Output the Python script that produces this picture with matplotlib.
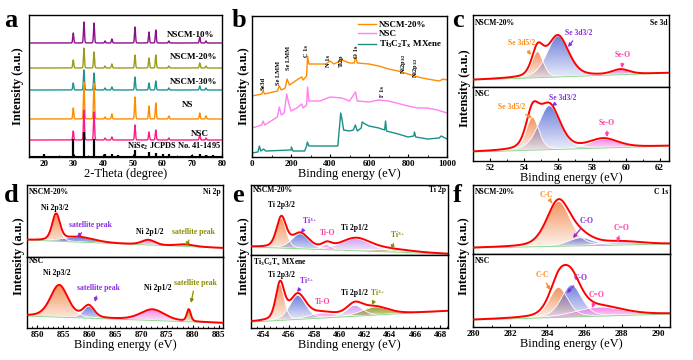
import numpy as np
import matplotlib
matplotlib.use("Agg")
import matplotlib.pyplot as plt
from matplotlib.colors import to_rgb
from matplotlib.ticker import MultipleLocator

plt.rcParams['font.family'] = ['Liberation Serif', 'DejaVu Serif']
plt.rcParams['font.weight'] = 'bold'
plt.rcParams['mathtext.fontset'] = 'custom'
plt.rcParams['mathtext.rm'] = 'Liberation Serif:bold'
plt.rcParams['mathtext.it'] = 'Liberation Serif:bold'
plt.rcParams['mathtext.bf'] = 'Liberation Serif:bold'
plt.rcParams['axes.linewidth'] = 1.0

W, H = 693, 360

# ---------------- data ----------------
# (a) XRD: peak positions and heights per sample
xrd_peaks = [29.9, 33.5, 36.9, 40.6, 42.9, 50.7, 55.4, 57.7, 62.1, 72.5, 74.6]
xrd_names = ['NSCM-10%', 'NSCM-20%', 'NSCM-30%', 'NS', 'NSC']
xrd_colors = ['#8b108b', '#9c9c1c', '#1f9590', '#ff8c00', '#ff1a8c']
xrd_offsets = [114, 89, 67, 38, 17]
xrd_heights = [
    [10, 21, 20, 2, 4, 16, 11, 13, 2, 6, 2],
    [8, 20, 16, 2, 4, 13, 10, 13, 2, 5, 2],
    [7, 20, 17, 2, 3, 13, 7, 9, 2, 4, 2],
    [11, 37, 36, 2, 5, 22, 13, 16, 3, 6, 3],
    [9, 30, 28, 2, 3, 15, 8, 10, 2, 5, 2],
]
ref_pos = [20.2, 29.9, 33.5, 36.9, 40.5, 42.9, 45.0, 50.6, 55.3, 57.7, 60.0, 62.1, 70.0, 72.5, 74.5, 77.0]
ref_int = [1.5, 17, 24, 17, 2, 2, 1, 5.5, 3.5, 3, 1.5, 1.5, 1, 1.5, 1, 1]

# (b) XPS survey spectra (binding energy, intensity)
be_nscm = [0, 50, 57, 65, 130, 140, 150, 170, 180, 192, 230, 255, 262, 280, 285, 292, 330, 380, 400, 420,
           460, 500, 525, 531, 540, 600, 650, 700, 750, 800, 850, 900, 960, 980, 1000]
i_nscm = [61, 63, 66, 63, 66, 71, 67, 69, 78, 72, 77, 80, 77, 81, 101, 93, 93, 93, 96, 93,
          97, 94, 94, 101, 94, 93, 91, 88, 86, 83, 80, 78, 76, 78, 77]
be_nsc = [0, 50, 57, 65, 130, 140, 150, 165, 178, 188, 200, 230, 255, 262, 280, 285, 292, 350, 400,
          460, 500, 531, 540, 600, 650, 700, 800, 850, 900, 950, 1000]
i_nsc = [29, 32, 36, 32, 40, 50, 42, 44, 63, 54, 46, 49, 53, 49, 52, 70, 56, 56, 60,
         59, 56, 65, 56, 55, 57, 56, 51, 49, 49, 47, 44]
be_mx = [0, 30, 38, 45, 60, 70, 200, 202, 210, 270, 280, 284, 292, 350, 440, 455, 462, 470, 500, 520,
         530, 540, 560, 565, 580, 600, 650, 680, 685, 690, 750, 800, 830, 833, 840, 900, 960, 970, 1000]
i_mx = [4, 5, 11, 6, 8, 6, 7, 10, 6, 6, 11, 15, 11, 11, 11, 44, 37, 27, 26, 27,
        32, 26, 29, 35, 33, 31, 29, 27, 36, 26, 23, 20, 21, 25, 20, 18, 19, 21, 18]
survey_names = ['NSCM-20%', 'NSC', 'Ti$_3$C$_2$T$_\\mathrm{x}$ MXene']
survey_colors = ['#ff8c00', '#ff80f0', '#1b8f86']

# XPS high resolution fits: centre, height, fwhm per component; background (left, right)
se_top = dict(c=[54.8, 56.0, 59.7], h=[26, 41, 5], w=[0.8, 1.5, 1.2], bg=(7, 14))
se_bot = dict(c=[54.5, 55.5, 58.7], h=[33, 44, 9], w=[0.9, 1.5, 2.0], bg=(9, 15))
ni_top = dict(c=[853.6, 858.0, 871.4, 878.5], h=[26, 5, 5, 2], w=[1.8, 7.0, 3.0, 4.0], bg=(17, 9))
ni_bot = dict(c=[854.2, 859.9, 872.2, 879.2], h=[32, 12, 11, 12], w=[4.0, 2.5, 5.5, 0.9], bg=(12, 5))
ti_top = dict(c=[455.4, 456.9, 459.0, 461.3, 464.0], h=[30, 15, 5, 12, 2.5], w=[0.9, 1.6, 0.9, 2.8, 4.0], bg=(8, 1))
ti_bot = dict(c=[455.3, 456.7, 458.6, 461.2, 462.8], h=[36, 24, 5, 11, 8], w=[0.8, 1.5, 2.5, 1.5, 2.5], bg=(6, 17))
c_top = dict(c=[284.6, 285.8, 288.0], h=[45, 8, 3], w=[1.5, 1.6, 2.5], bg=(6, 10))
c_bot = dict(c=[284.6, 285.3, 286.8], h=[30, 32, 9], w=[1.2, 1.3, 3.0], bg=(7, 13))

ORANGE, BLUE, PINK, OLIVE, LAV = '#f08040', '#5468d4', '#f070e0', '#8c8c10', '#c890f0'
T_OR, T_PU, T_PK, T_OL = '#ff8c1a', '#8a2be2', '#ff3fa4', '#8b8b00'

# ---------------- helpers ----------------
fig = plt.figure(figsize=(W / 100, H / 100), dpi=100)


def rect(l, t, r, b):
    return [l / W, 1 - b / H, (r - l) / W, (b - t) / H]


def fp(x, y):
    return (x, H - y)


def style_x(ax, major, minor):
    ax.xaxis.set_major_locator(MultipleLocator(major))
    ax.xaxis.set_minor_locator(MultipleLocator(minor))
    ax.tick_params(axis='x', which='major', direction='in', length=2.5, width=0.8, labelsize=6.5, pad=2)
    ax.tick_params(axis='x', which='minor', direction='in', length=1.5, width=0.6)
    ax.tick_params(axis='y', left=False, labelleft=False)


def pv(x, c, h, w, eta=0.35):
    d = ((x - c) / w) ** 2
    return h * (eta / (1 + 4 * d) + (1 - eta) * np.exp(-4 * np.log(2) * d))


def grad_fill(ax, x, base, top, color):
    poly = ax.fill_between(x, base, top, color='none', lw=0)
    path = poly.get_paths()[0]
    g = np.zeros((100, 1, 4))
    g[..., :3] = to_rgb(color)
    g[:, 0, 3] = np.linspace(0.85, 0.08, 100)
    im = ax.imshow(g, extent=[x.min(), x.max(), base.min(), top.max()], aspect='auto',
                   origin='upper', zorder=1, interpolation='bilinear')
    im.set_clip_path(path, transform=ax.transData)


def xps(ax, xlim, ymax, fit, colors):
    x = np.linspace(xlim[0], xlim[1], 800)
    bl, br = fit['bg']
    bg = bl + (br - bl) * (x - xlim[0]) / (xlim[1] - xlim[0])
    env = bg.copy()
    for c, h, w, col in zip(fit['c'], fit['h'], fit['w'], colors):
        comp = pv(x, c, h, w)
        grad_fill(ax, x, bg, bg + comp, col)
        ax.plot(x, bg + comp, color='white', lw=0.6, zorder=2)
        env += comp
    ax.plot(x, bg, color='#90d890', lw=0.7, zorder=2)
    ax.plot(x, env, color='#ff0000', lw=1.4, zorder=3)
    ax.set_xlim(xlim)
    ax.set_ylim(0, ymax)
    ax.tick_params(axis='y', left=False, labelleft=False)


def note(txt, xy, color='black', size=5.5, ha='center', target=None):
    if target is None:
        fig.text(xy[0] / W, 1 - xy[1] / H, txt, color=color, fontsize=size, ha=ha, va='center')
    else:
        fig.add_artist(plt.Annotation(txt, xy=fp(*target), xytext=fp(*xy), xycoords='figure pixels',
                                      textcoords='figure pixels', color=color, fontsize=size,
                                      ha=ha, va='center',
                                      arrowprops=dict(arrowstyle='-|>', color=color, lw=0.9,
                                                      mutation_scale=5, shrinkA=1, shrinkB=0)))


def ylab(x, yc):
    fig.text(x / W, 1 - yc / H, 'Intensity (a.u.)', rotation=90, ha='center', va='center', fontsize=9)


def panel_label(s, x, y):
    fig.text(x / W, 1 - y / H, s, fontsize=19, ha='left', va='baseline')


# ---------------- (a) XRD ----------------
ax = fig.add_axes(rect(29, 15, 222, 157))
x = np.linspace(15, 80, 3000)
for name, col, off, hs in zip(xrd_names, xrd_colors, xrd_offsets, xrd_heights):
    y = off + sum(pv(x, c, h, 0.4, eta=0.1) for c, h in zip(xrd_peaks, hs))
    ax.plot(x, y, color=col, lw=1.0)
ax.hlines(1.5, 15, 80, color='black', lw=0.8)
ax.vlines(ref_pos, 1.5, [1.5 + v for v in ref_int], color='black', lw=1.6)
ax.set_xlim(15, 80)
ax.set_ylim(0, 142)
style_x(ax, 10, 5)
ax.set_xlabel('2-Theta (degree)', fontsize=9, labelpad=0)
ylab(18, 86)
for name, pos in zip(xrd_names, [(191, 35), (194, 57), (194, 82), (188, 105), (200, 134)]):
    note(name, pos, size=6.5)
note('NiSe$_2$ JCPDS No. 41-1495', (221, 146), size=6, ha='right')
panel_label('a', 4, 27)

# ---------------- (b) survey ----------------
ax = fig.add_axes(rect(252, 16, 447, 157))
for bx, iy, col, name in zip([be_nscm, be_nsc, be_mx], [i_nscm, i_nsc, i_mx], survey_colors, survey_names):
    ax.plot(bx, iy, color=col, lw=1.0, label=name)
ax.set_xlim(0, 1000)
ax.set_ylim(0, 141)
style_x(ax, 200, 100)
ax.set_xlabel('Binding energy (eV)', fontsize=9, labelpad=0)
ax.legend(loc='upper right', frameon=False, fontsize=6.5, handlelength=2.0, labelspacing=0.1,
          borderaxespad=0.1, handletextpad=0.4)
ylab(244, 86)
for txt, px, pb in [('Se3d', 263, 90), ('Se LMM', 279, 85), ('Se LMM', 288, 70), ('C 1s', 307, 57),
                    ('N 1s', 329, 67), ('Ti2p', 341, 67), ('O 1s', 356, 58), ('F 1s', 383, 97),
                    ('Ni2p$_{3/2}$', 404, 74), ('Ni2p$_{1/2}$', 415, 78)]:
    fig.text(px / W, 1 - pb / H, txt, rotation=90, ha='center', va='bottom', fontsize=4.6)
panel_label('b', 232, 27)

# ---------------- (c) Se 3d ----------------
ax1 = fig.add_axes(rect(473, 15, 669, 87))
ax2 = fig.add_axes(rect(473, 87, 669, 161))
xps(ax1, (51, 62.55), 72, se_top, [ORANGE, BLUE, PINK])
xps(ax2, (51, 62.55), 74, se_bot, [ORANGE, BLUE, PINK])
ax1.tick_params(axis='x', bottom=False, labelbottom=False)
style_x(ax2, 2, 1)
ax2.set_xlabel('Binding energy (eV)', fontsize=9, labelpad=0)
ylab(465, 88)
note('NSCM-20%', (475, 23), ha='left')
note('Se 3d', (667, 23), ha='right')
note('Se 3d5/2', (522, 43), T_OR, target=(531, 55))
note('Se 3d3/2', (579, 33), T_PU, target=(568, 47))
note('Se-O', (623, 55), T_PK, target=(622, 68))
note('NSC', (475, 94), ha='left')
note('Se 3d5/2', (512, 107), T_OR, target=(532, 118))
note('Se 3d3/2', (563, 98), T_PU, target=(552, 106))
note('Se-O', (607, 123), T_PK, target=(607, 137))
panel_label('c', 452, 27)

# ---------------- (d) Ni 2p ----------------
ax1 = fig.add_axes(rect(27, 185, 223, 257))
ax2 = fig.add_axes(rect(27, 257, 223, 328))
xps(ax1, (848, 885.8), 72, ni_top, [ORANGE, BLUE, PINK, OLIVE])
xps(ax2, (848, 885.8), 71, ni_bot, [ORANGE, BLUE, PINK, OLIVE])
ax1.tick_params(axis='x', bottom=False, labelbottom=False)
style_x(ax2, 5, 1)
ax2.set_xlabel('Binding energy (eV)', fontsize=9, labelpad=0)
ylab(19, 256)
note('NSCM-20%', (29, 192), ha='left')
note('Ni 2p', (221, 192), ha='right')
note('Ni 2p3/2', (55, 208))
note('satellite peak', (90, 225), T_PU, target=(77, 237))
note('Ni 2p1/2', (150, 232))
note('satellite peak', (193, 232), T_OL, target=(186, 246))
note('NSC', (29, 261), ha='left')
note('Ni 2p3/2', (57, 273))
note('satellite peak', (98, 288), T_PU, target=(95, 302))
note('Ni 2p1/2', (158, 288))
note('satellite peak', (195, 283), T_OL, target=(191, 303))
panel_label('d', 4, 202)

# ---------------- (e) Ti 2p ----------------
ax1 = fig.add_axes(rect(251, 185, 448, 255))
ax2 = fig.add_axes(rect(251, 255, 448, 328))
xps(ax1, (453, 468.6), 70, ti_top, [ORANGE, BLUE, PINK, LAV, OLIVE])
xps(ax2, (453, 468.6), 73, ti_bot, [ORANGE, BLUE, PINK, LAV, OLIVE])
ax1.tick_params(axis='x', bottom=False, labelbottom=False)
style_x(ax2, 2, 0.5)
ax2.set_xlabel('Binding energy (eV)', fontsize=9, labelpad=0)
ylab(244, 256)
note('NSCM-20%', (253, 190), ha='left')
note('Ti 2p', (446, 190), ha='right')
note('Ti 2p3/2', (281, 205))
note('Ti$^{3+}$', (310, 221), T_PU, target=(301, 233))
note('Ti-O', (328, 233), T_PK)
note('Ti 2p1/2', (354, 228))
note('Ti$^{3+}$', (398, 234), T_OL, target=(391, 249))
note('Ti$_3$C$_2$T$_\\mathrm{x}$ MXene', (253, 262), ha='left')
note('Ti 2p3/2', (281, 275))
note('Ti$^{3+}$', (307, 280), T_PU, target=(297, 292))
note('Ti-O', (323, 302), T_PK)
note('Ti 2p1/2', (354, 293))
note('Ti$^{3+}$', (378, 292), T_OL, target=(372, 305))
panel_label('e', 232, 202)

# ---------------- (f) C 1s ----------------
ax1 = fig.add_axes(rect(473, 185, 670, 254))
ax2 = fig.add_axes(rect(473, 254, 670, 327))
xps(ax1, (280, 290.6), 69, c_top, [ORANGE, BLUE, PINK])
xps(ax2, (280, 290.6), 73, c_bot, [ORANGE, BLUE, PINK])
ax1.tick_params(axis='x', bottom=False, labelbottom=False)
style_x(ax2, 2, 1)
ax2.set_xlabel('Binding energy (eV)', fontsize=9, labelpad=0)
ylab(464, 256)
note('NSCM-20%', (475, 192), ha='left')
note('C 1s', (668, 192), ha='right')
note('C-C', (546, 195), T_OR, target=(552, 203))
note('C-O', (587, 221), T_PU, target=(573, 238))
note('C=O', (622, 228), T_PK, target=(617, 242))
note('NSC', (475, 261), ha='left')
note('C-C', (542, 275), T_OR, target=(550, 290))
note('C-O', (581, 278), T_PU, target=(567, 293))
note('C=O', (597, 295), T_PK, target=(592, 308))
panel_label('f', 453, 202)

fig.savefig('out.png', dpi=100)
